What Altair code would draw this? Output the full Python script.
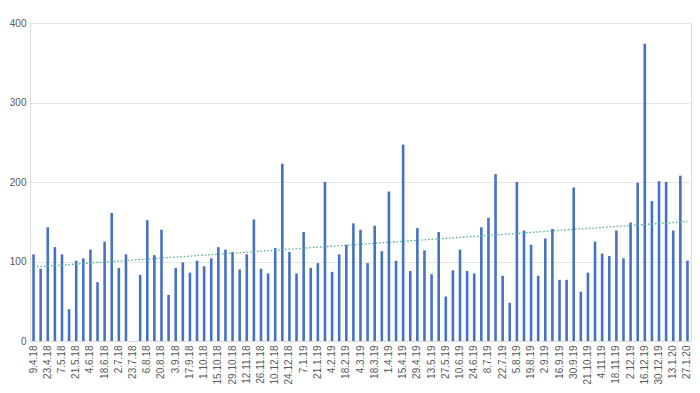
import altair as alt
import pandas as pd
import numpy as np

weeks = [
    "9.4.18", "16.4.18", "23.4.18", "30.4.18", "7.5.18", "14.5.18", "21.5.18", "28.5.18",
    "4.6.18", "11.6.18", "18.6.18", "25.6.18", "2.7.18", "9.7.18", "23.7.18", "30.7.18",
    "6.8.18", "13.8.18", "20.8.18", "27.8.18", "3.9.18", "10.9.18", "17.9.18", "24.9.18",
    "1.10.18", "8.10.18", "15.10.18", "22.10.18", "29.10.18", "5.11.18", "12.11.18", "19.11.18",
    "26.11.18", "3.12.18", "10.12.18", "17.12.18", "24.12.18", "31.12.18", "7.1.19", "14.1.19",
    "21.1.19", "28.1.19", "4.2.19", "11.2.19", "18.2.19", "25.2.19", "4.3.19", "11.3.19",
    "18.3.19", "25.3.19", "1.4.19", "8.4.19", "15.4.19", "22.4.19", "29.4.19", "6.5.19",
    "13.5.19", "20.5.19", "27.5.19", "3.6.19", "10.6.19", "17.6.19", "24.6.19", "1.7.19",
    "8.7.19", "15.7.19", "22.7.19", "29.7.19", "5.8.19", "12.8.19", "19.8.19", "26.8.19",
    "2.9.19", "9.9.19", "16.9.19", "23.9.19", "30.9.19", "7.10.19", "21.10.19", "28.10.19",
    "4.11.19", "11.11.19", "18.11.19", "25.11.19", "2.12.19", "9.12.19", "16.12.19", "23.12.19",
    "30.12.19", "6.1.20", "13.1.20", "20.1.20", "27.1.20",
]

values = [
    109, 91, 143, 118, 109, 40, 101, 104, 115, 74, 125, 161, 92, 109, 0, 83,
    152, 108, 140, 58, 92, 99, 86, 101, 94, 104, 118, 115, 112, 90, 109, 153,
    91, 85, 117, 223, 112, 85, 137, 92, 98, 200, 87, 109, 121, 148, 140, 98,
    145, 113, 188, 101, 247, 88, 142, 114, 84, 137, 56, 89, 115, 88, 85, 143,
    155, 210, 82, 48, 200, 139, 121, 82, 129, 141, 77, 77, 193, 62, 86, 125,
    110, 107, 139, 104, 149, 199, 374, 176, 201, 200, 139, 208, 101,
]

y_ticks = [0, 50, 100, 150, 200, 250, 300, 350, 400]
x_label_values = weeks[::2]

# linear trendline over category index (as Excel does)
idx = np.arange(1, len(values) + 1)
slope, intercept = np.polyfit(idx, values, 1)
trend = intercept + slope * idx

df = pd.DataFrame({"week": weeks, "value": values, "trend": trend})

FONT = "Liberation Sans"
GRAY = "#595959"

x_enc = alt.X(
    "week:N",
    sort=weeks,
    scale=alt.Scale(paddingInner=0, paddingOuter=0),
    axis=alt.Axis(
        values=x_label_values,
        labelAngle=-90,
        labelFontSize=10,
        labelColor=GRAY,
        labelFont=FONT,
        labelPadding=4,
        ticks=False,
        domainColor="#D9D9D9",
        title=None,
        labelOverlap=False,
    ),
)

bars = alt.Chart(df).mark_bar(size=2.6, color="#4472C4").encode(
    x=x_enc,
    y=alt.Y(
        "value:Q",
        scale=alt.Scale(domain=[0, 400], nice=False),
        axis=alt.Axis(
            values=y_ticks,
            labelFontSize=10,
            labelColor=GRAY,
            labelFont=FONT,
            labelPadding=4,
            ticks=False,
            domain=False,
            gridColor="#E6E6E6",
            title=None,
        ),
    ),
)

trend_line = alt.Chart(df).mark_line(
    color="#4BAE8F", strokeDash=[1.5, 2], strokeWidth=1.3
).encode(
    x=alt.X("week:N", sort=weeks),
    y="trend:Q",
)

chart = (
    alt.layer(bars, trend_line)
    .properties(
        width=661,
        height=318,
        autosize=alt.AutoSizeParams(type="none"),
        padding={"left": 22, "top": 15, "right": 1, "bottom": 43},
    )
    .configure_view(stroke=None)
    .configure(background="white")
)

chart.save("out.html", embed_options={"renderer": "svg", "actions": False})
